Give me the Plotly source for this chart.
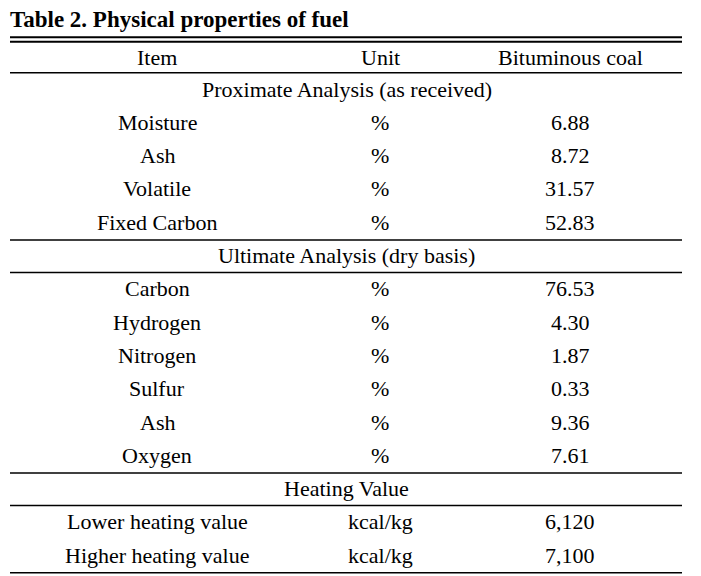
import plotly.graph_objects as go

title = "Table 2. Physical properties of fuel"
columns = ["Item", "Unit", "Bituminous coal"]
sections = ["Proximate Analysis (as received)", "Ultimate Analysis (dry basis)", "Heating Value"]
items = [
    ["Moisture", "Ash", "Volatile", "Fixed Carbon"],
    ["Carbon", "Hydrogen", "Nitrogen", "Sulfur", "Ash", "Oxygen"],
    ["Lower heating value", "Higher heating value"],
]
units = [
    ["%", "%", "%", "%"],
    ["%", "%", "%", "%", "%", "%"],
    ["kcal/kg", "kcal/kg"],
]
values = [
    ["6.88", "8.72", "31.57", "52.83"],
    ["76.53", "4.30", "1.87", "0.33", "9.36", "7.61"],
    ["6,120", "7,100"],
]

W, H = 701, 576
OFF = 8  # page body margin
x_left, x_right = 10, 682
col_x = [157, 380, 570]
sec_x = 346.5
header_y = 57
row0_y = 89
row_h = 33.3
font = "Liberation Serif, Times New Roman, serif"
fs = 22

fig = go.Figure()
ann = []
shapes = []

def hline(y, w=1.5):
    shapes.append(dict(type="line", xref="x", yref="y", x0=x_left, x1=x_right,
                       y0=y, y1=y, line=dict(color="black", width=w)))

def text(x, y, s, size=fs, bold=False, anchor="center"):
    ann.append(dict(x=x, y=y, xref="x", yref="y", text=("<b>%s</b>" % s) if bold else s,
                    showarrow=False, xanchor=anchor, yanchor="middle", borderpad=0,
                    font=dict(family=font, size=size, color="black")))

text(x_left - 1, 19.5, title, size=23, bold=True, anchor="left")
hline(37.3, 2)
hline(41.7, 2)
for cx, c in zip(col_x, columns):
    text(cx, header_y, c)
hline(72.7)

idx = 0
for si, sec in enumerate(sections):
    y = row0_y + idx * row_h
    if si > 0:
        hline(y - 15.5)
        hline(y + 17)
    text(sec_x, y, sec)
    idx += 1
    for it, un, va in zip(items[si], units[si], values[si]):
        y = row0_y + idx * row_h
        text(col_x[0], y, it)
        text(col_x[1], y, un)
        text(col_x[2], y, va)
        idx += 1
hline(572.7)

fig.add_trace(go.Scatter(x=[0, W], y=[0, H], mode="markers", marker=dict(opacity=0),
                         hoverinfo="skip", showlegend=False))
fig.update_layout(
    width=W, height=H, margin=dict(l=0, r=0, t=0, b=0),
    paper_bgcolor="white", plot_bgcolor="white",
    xaxis=dict(range=[OFF, W + OFF], visible=False, fixedrange=True),
    yaxis=dict(range=[H + OFF, OFF], visible=False, fixedrange=True),
    annotations=ann, shapes=shapes, showlegend=False,
)
fig.write_html("out.html")
